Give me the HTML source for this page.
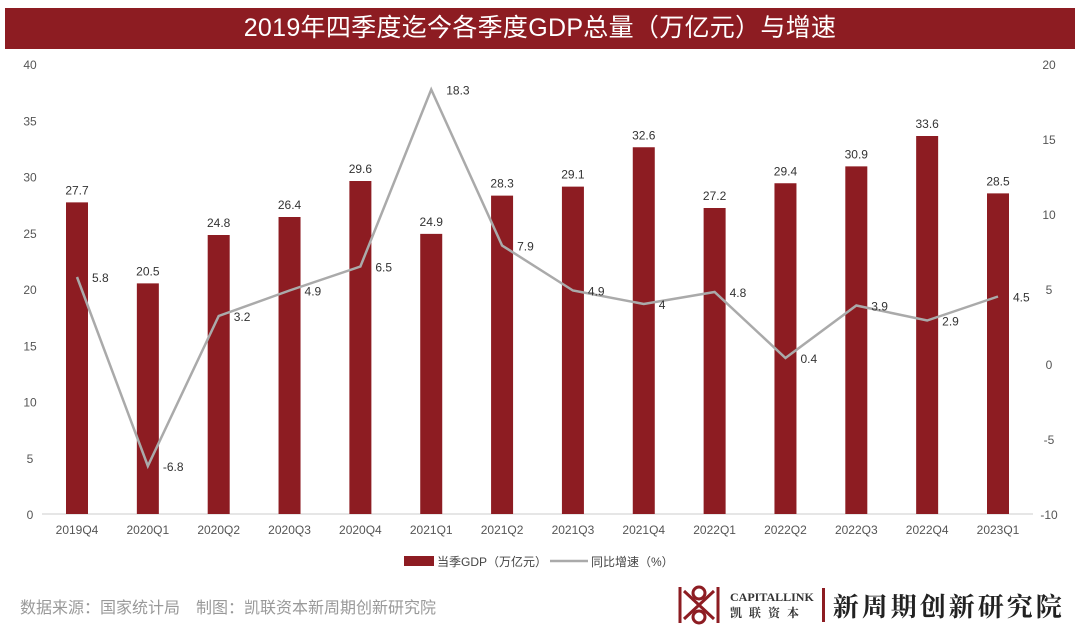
<!DOCTYPE html>
<html><head><meta charset="utf-8"><style>
body{margin:0;background:#fff;width:1080px;height:640px;overflow:hidden;font-family:"Liberation Sans","Noto Sans CJK SC",sans-serif}
#title{position:absolute;left:5px;top:8px;width:1070px;height:41px;background:#8d1c22;color:#fff;font-size:25px;line-height:41px;text-align:center;letter-spacing:0.3px}
svg{position:absolute;left:0;top:0}
#src{position:absolute;left:20px;top:594px;font-size:16px;color:#999}
#logo{position:absolute;left:676px;top:583px;height:44px;display:flex;align-items:center;font-family:"Noto Serif CJK SC",serif}
</style></head><body>
<div id="title">2019年四季度迄今各季度GDP总量（万亿元）与增速</div>
<svg id="chart" width="1080" height="640"></svg>
<div id="src">数据来源：国家统计局　制图：凯联资本新周期创新研究院</div>
<div id="logo">
<svg width="46" height="44" style="position:static"><g stroke="#8d1c22" stroke-width="3" fill="none"><path d="M4 4V40M42 4V40M8 8L38 36M38 8L8 36"/><circle cx="23" cy="10" r="6"/><circle cx="23" cy="34" r="6"/></g></svg>
<div style="margin-left:8px;font-size:12px;line-height:15px;color:#333;font-family:'Liberation Serif',serif;font-weight:bold">CAPITALLINK<br><span style="font-family:'Noto Serif CJK SC',serif;letter-spacing:7px">凯联资本</span></div>
<div style="width:3px;height:34px;background:#8d1c22;margin:0 8px"></div>
<div style="font-size:26px;font-weight:bold;color:#222;letter-spacing:3px">新周期创新研究院</div>
</div>
<script>
const categories=["2019Q4","2020Q1","2020Q2","2020Q3","2020Q4","2021Q1","2021Q2","2021Q3","2021Q4","2022Q1","2022Q2","2022Q3","2022Q4","2023Q1"];
const gdp=[27.7,20.5,24.8,26.4,29.6,24.9,28.3,29.1,32.6,27.2,29.4,30.9,33.6,28.5];
const growth=[5.8,-6.8,3.2,4.9,6.5,18.3,7.9,4.9,4,4.8,0.4,3.9,2.9,4.5];
const leftTicks=[0,5,10,15,20,25,30,35,40];
const rightTicks=[-10,-5,0,5,10,15,20];
const NS="http://www.w3.org/2000/svg";
const svg=document.getElementById('chart');
const x0=77,x1=998;
const xs=i=>x0+(x1-x0)*i/(categories.length-1);
const yL=v=>514-v*450/40;
const yR=v=>514-(v+10)*450/30;
function mk(t,a,txt){const e=document.createElementNS(NS,t);for(const k in a)e.setAttribute(k,a[k]);if(txt!==undefined)e.textContent=txt;svg.appendChild(e);return e;}
leftTicks.forEach(v=>{const e=mk('text',{x:30,y:yL(v)+5,'text-anchor':'middle','font-size':12,fill:'#555'},v);

});
rightTicks.forEach(v=>{const e=mk('text',{x:1049,y:yR(v)+5,'text-anchor':'middle','font-size':12,fill:'#555'},v);

});
const ax=mk('line',{x1:42,x2:1033,y1:514,y2:514,stroke:'#ccc'});


categories.forEach((c,i)=>{
const b=mk('rect',{x:xs(i)-11,y:yL(gdp[i]),width:22,height:514-yL(gdp[i]),fill:'#8d1c22'});


const l=mk('text',{x:xs(i),y:yL(gdp[i])-8,'text-anchor':'middle','font-size':12,fill:'#333'},gdp[i]);


const t=mk('text',{x:xs(i),y:534,'text-anchor':'middle','font-size':12,fill:'#555'},c);


});
const ln=mk('polyline',{points:growth.map((v,i)=>xs(i)+','+yR(v)).join(' '),fill:'none',stroke:'#aaa','stroke-width':2.5});


growth.forEach((v,i)=>{const l=mk('text',{x:xs(i)+15,y:yR(v)+5,'font-size':12,fill:'#333'},v);

});
const lg1=mk('rect',{x:404,y:556,width:30,height:10,fill:'#8d1c22'});


const lt1=mk('text',{x:437,y:566,'font-size':12,fill:'#444'},'当季GDP（万亿元）');


const lg2=mk('line',{x1:550,x2:588,y1:561,y2:561,stroke:'#aaa','stroke-width':2.5});


const lt2=mk('text',{x:591,y:566,'font-size':12,fill:'#444'},'同比增速（%）');


</script>
</body></html>
